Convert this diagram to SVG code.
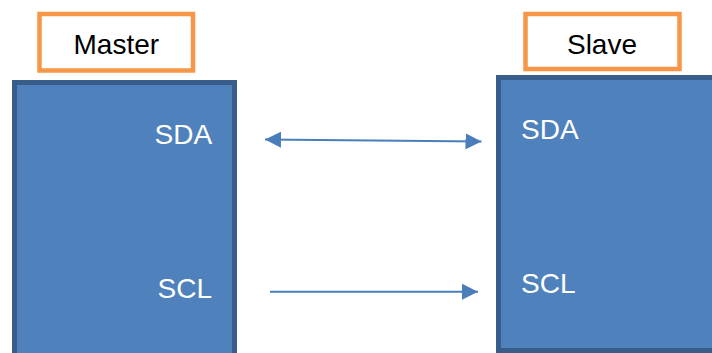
<svg xmlns="http://www.w3.org/2000/svg" width="712" height="353" viewBox="0 0 712 353">
<style>
.lbl{fill:#fff;stroke:#F79646;stroke-width:4.5}
.blk{fill:#4F81BD;stroke:#385D8A;stroke-width:5}
.t{font-family:"Liberation Sans",Arial,sans-serif;font-size:28px}
.w{fill:#fff}
.k{fill:#000}
.c{stroke:#4A7EBB;stroke-width:2;fill:none}
</style>
<defs>
<marker id="ah" viewBox="0 0 16 16" refX="16" refY="8" markerWidth="16" markerHeight="16" markerUnits="userSpaceOnUse" orient="auto-start-reverse">
<path d="M0,0 L16,8 L0,16 Z" fill="#4A7EBB"/>
</marker>
</defs>
<g id="master">
<rect class="blk" x="14.5" y="82.5" width="220" height="290"/>
<text class="t w" x="154.5" y="144.3">SDA</text>
<text class="t w" x="157.5" y="298.3">SCL</text>
</g>
<g id="master-label">
<rect class="lbl" x="39.5" y="14" width="153.5" height="56.5"/>
<text class="t k" x="116.3" y="54.3" text-anchor="middle">Master</text>
</g>
<g id="slave">
<rect class="blk" x="498.5" y="77.5" width="240" height="273"/>
<text class="t w" x="521" y="139.3">SDA</text>
<text class="t w" x="521" y="293.3">SCL</text>
</g>
<g id="slave-label">
<rect class="lbl" x="525.5" y="14" width="154" height="55"/>
<text class="t k" x="602" y="54" text-anchor="middle">Slave</text>
</g>
<g id="connectors">
<line class="c" x1="265" y1="139.5" x2="481.5" y2="141.5" marker-start="url(#ah)" marker-end="url(#ah)"/>
<line class="c" x1="270" y1="291.7" x2="478" y2="291.7" marker-end="url(#ah)"/>
</g>
</svg>
